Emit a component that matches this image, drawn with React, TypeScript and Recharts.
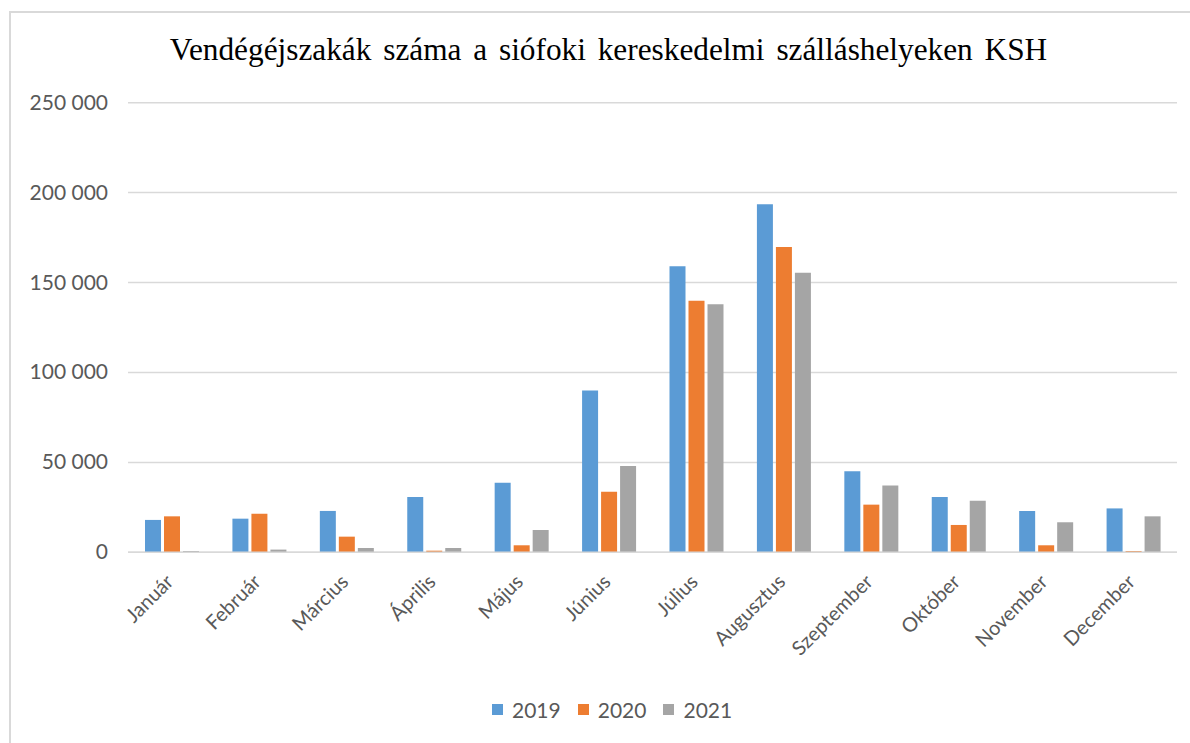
import { BarChart, Bar, XAxis, YAxis, CartesianGrid } from "recharts";

const MONTHS = [
  "Január", "Február", "Március", "Április", "Május", "Június",
  "Július", "Augusztus", "Szeptember", "Október", "November", "December",
];

const Y2019 = [18000, 18700, 23000, 30700, 38700, 90000, 159000, 193500, 45000, 30700, 23000, 24400];
const Y2020 = [20000, 21500, 8700, 900, 3900, 33700, 139900, 169800, 26500, 15200, 3900, 700];
const Y2021 = [700, 1500, 2400, 2400, 12400, 48000, 137900, 155500, 37200, 28700, 16700, 20000];

const Y_TICKS = [0, 50000, 100000, 150000, 200000, 250000];

const SERIES = [
  { key: "y2019", name: "2019", color: "#5B9BD5" },
  { key: "y2020", name: "2020", color: "#ED7D31" },
  { key: "y2021", name: "2021", color: "#A5A5A5" },
];

const data = MONTHS.map((m, i) => ({
  month: m,
  y2019: Y2019[i],
  y2020: Y2020[i],
  y2021: Y2021[i],
}));

const FONT = "Lato, 'Open Sans', sans-serif";
const TEXT = "#595959";

const fmt = (v: number) => String(v).replace(/\B(?=(\d{3})+(?!\d))/g, " ");

function YTick({ y, payload }: any) {
  return (
    <text x={108} y={y} dy={7} textAnchor="end" fill={TEXT} fontSize={21} fontFamily={FONT}>
      {fmt(payload.value)}
    </text>
  );
}

function XTick({ x, payload }: any) {
  const ax = x + 3;
  const ay = 583;
  return (
    <text
      x={ax}
      y={ay}
      textAnchor="end"
      fill={TEXT}
      fontSize={20}
      fontFamily={FONT}
      transform={`rotate(-45, ${ax}, ${ay})`}
    >
      {payload.value}
    </text>
  );
}

export default function App() {
  return (
    <div style={{ position: "absolute", left: 0, top: 0, width: 1190, height: 743, background: "#fff" }}>
      <div style={{ position: "absolute", left: 9, top: 11, right: 0, height: 2, background: "#d9d9d9" }} />
      <div style={{ position: "absolute", left: 9, top: 11, bottom: 0, width: 2, background: "#d9d9d9" }} />
      <div
        style={{
          position: "absolute",
          left: 0,
          width: 1217,
          top: 32,
          textAlign: "center",
          fontFamily: "'Liberation Serif', 'Times New Roman', serif",
          fontSize: 31.3,
          color: "#000",
          wordSpacing: 4,
          whiteSpace: "nowrap",
        }}
      >
        Vendégéjszakák száma a siófoki kereskedelmi szálláshelyeken KSH
      </div>
      <BarChart
        width={1190}
        height={743}
        data={data}
        margin={{ top: 102.7, right: 13, bottom: 0, left: 0 }}
        barSize={16}
        barGap={3}
        style={{ position: "absolute", left: 0, top: 0 }}
      >
        <CartesianGrid horizontal vertical={false} stroke="#d9d9d9" strokeWidth={1.5} />
        <YAxis
          width={128}
          domain={[0, 250000]}
          ticks={Y_TICKS}
          axisLine={false}
          tickLine={false}
          tick={<YTick />}
          interval={0}
        />
        <XAxis
          dataKey="month"
          height={190.7}
          axisLine={{ stroke: "#d9d9d9", strokeWidth: 1.5 }}
          tickLine={false}
          tick={<XTick />}
          interval={0}
        />
        {SERIES.map((s) => (
          <Bar key={s.key} dataKey={s.key} name={s.name} fill={s.color} isAnimationActive={false} />
        ))}
      </BarChart>
      <div
        style={{
          position: "absolute",
          left: 492,
          top: 697,
          display: "flex",
          alignItems: "center",
          fontFamily: FONT,
          fontSize: 21,
          color: TEXT,
        }}
      >
        {SERIES.map((s) => (
          <div key={s.key} style={{ display: "flex", alignItems: "center", marginRight: 17 }}>
            <span style={{ display: "inline-block", width: 11, height: 11, background: s.color, marginRight: 9 }} />
            <span>{s.name}</span>
          </div>
        ))}
      </div>
    </div>
  );
}
